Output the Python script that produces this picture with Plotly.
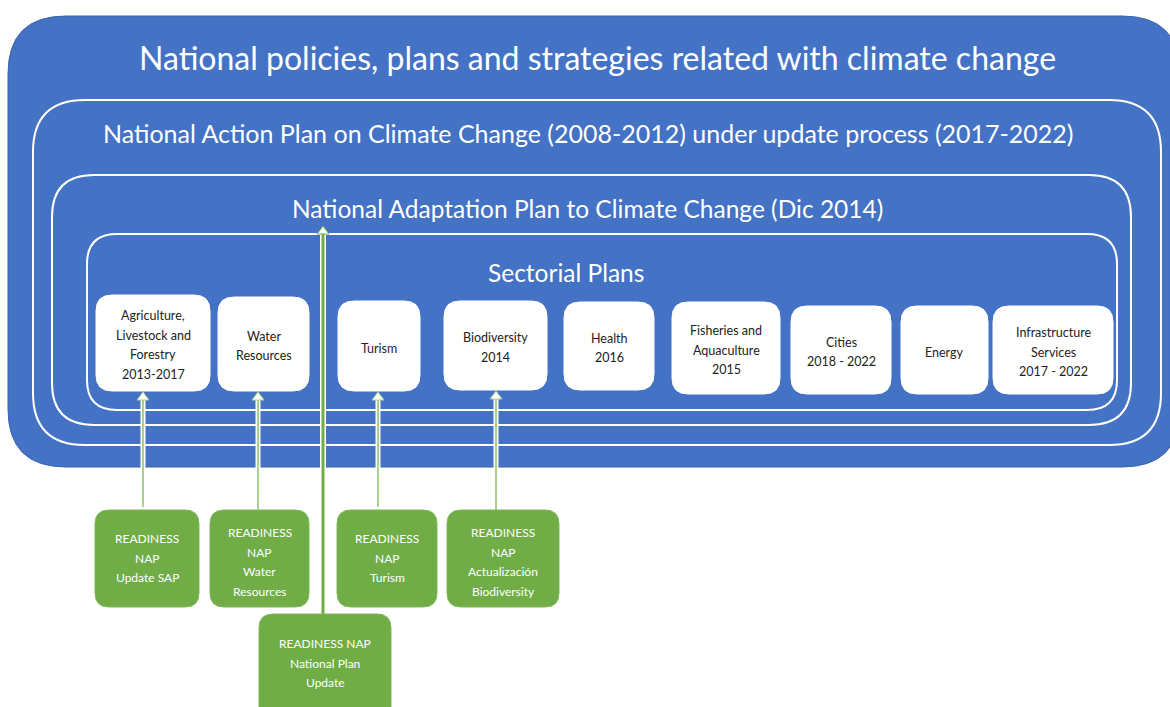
import plotly.graph_objects as go

# ---- content ----
title_outer = "National policies, plans and strategies related with climate change"
title_action = "National Action Plan on Climate Change (2008-2012) under update process (2017-2022)"
title_adapt = "National Adaptation Plan to Climate Change (Dic 2014)"
title_sector = "Sectorial Plans"

sector_labels = [
    ["Agriculture,", "Livestock and", "Forestry", "2013-2017"],
    ["Water", "Resources"],
    ["Turism"],
    ["Biodiversity", "2014"],
    ["Health", "2016"],
    ["Fisheries and", "Aquaculture", "2015"],
    ["Cities", "2018 - 2022"],
    ["Energy"],
    ["Infrastructure", "Services", "2017 - 2022"],
]
readiness_labels = [
    ["READINESS", "NAP", "Update SAP"],
    ["READINESS", "NAP", "Water", "Resources"],
    ["READINESS", "NAP", "Turism"],
    ["READINESS", "NAP", "Actualización", "Biodiversity"],
    ["READINESS NAP", "National Plan", "Update"],
]

# ---- layout geometry (pixels) ----
sector_boxes = [(96, 295, 210, 391), (218, 297, 309, 391), (338, 301, 420, 391),
                (444, 301, 547, 390), (564, 302, 654, 390), (672, 302, 780, 394),
                (791, 306, 891, 394), (901, 306, 988, 394), (993, 306, 1113, 394)]
green_boxes = [(95, 510, 199, 607), (210, 510, 309, 607), (337, 510, 437, 607),
               (447, 510, 559, 607), (259, 614, 391, 730)]
green_text_centers = [558, 562, 558, 562, 663]
small_arrows = [(143, 507, 392), (258, 509, 392), (378, 507, 392), (496, 510, 391)]
long_arrow = (323, 614, 226)

BLUE = "#4472C4"
GREEN = "#70AD47"
FONT = "Lato"
LINE_H = 19.5


def rrect(x0, y0, x1, y1, r):
    return (f"M {x0+r},{y0} L {x1-r},{y0} Q {x1},{y0} {x1},{y0+r} "
            f"L {x1},{y1-r} Q {x1},{y1} {x1-r},{y1} L {x0+r},{y1} "
            f"Q {x0},{y1} {x0},{y1-r} L {x0},{y0+r} Q {x0},{y0} {x0+r},{y0} Z")


shapes = []
ann = []


def text_block(cx, cy, lines, size, color):
    n = len(lines)
    for k, t in enumerate(lines):
        ann.append(dict(x=cx, y=cy + (k - (n - 1) / 2) * LINE_H, text=t,
                        font=dict(size=size, color=color, family=FONT)))


# outer container
shapes.append(dict(type="path", path=rrect(8, 16, 1180, 467, 58), fillcolor=BLUE,
                   line=dict(color="#3A63AD", width=1), layer="below"))
shapes.append(dict(type="path", path=rrect(33, 100, 1161, 445, 52), fillcolor="rgba(0,0,0,0)",
                   line=dict(color="white", width=2)))
shapes.append(dict(type="path", path=rrect(52, 175, 1131, 425, 42), fillcolor="rgba(0,0,0,0)",
                   line=dict(color="white", width=2)))
shapes.append(dict(type="path", path=rrect(87, 234, 1117, 410, 30), fillcolor="rgba(0,0,0,0)",
                   line=dict(color="white", width=2)))

ann.append(dict(x=597, y=57, text=title_outer, font=dict(size=32, color="white", family=FONT)))
ann.append(dict(x=588, y=133, text=title_action, font=dict(size=25, color="white", family=FONT)))
ann.append(dict(x=587, y=208, text=title_adapt, font=dict(size=24.5, color="white", family=FONT)))
ann.append(dict(x=566, y=272, text=title_sector, font=dict(size=24.5, color="white", family=FONT)))

for (x0, y0, x1, y1), lab in zip(sector_boxes, sector_labels):
    shapes.append(dict(type="path", path=rrect(x0, y0, x1, y1, 16), fillcolor="white",
                       line=dict(color="white", width=1)))
    text_block((x0 + x1) / 2, (y0 + y1) / 2 + 2, lab, 12.5, "#222222")

# small arrows
for x, yb, yt in small_arrows:
    shapes.append(dict(type="line", x0=x, x1=x, y0=yb, y1=yt + 6, line=dict(color="white", width=5)))
    shapes.append(dict(type="line", x0=x, x1=x, y0=yb, y1=yt + 6, line=dict(color="#A9D18E", width=2)))
    shapes.append(dict(type="path", path=f"M {x-6},{yt+8} L {x},{yt} L {x+6},{yt+8} Z",
                       fillcolor="white", line=dict(color="#A9D18E", width=1)))

# long arrow
x, yb, yt = long_arrow
shapes.append(dict(type="line", x0=x, x1=x, y0=yb, y1=yt + 6, line=dict(color="white", width=6)))
shapes.append(dict(type="line", x0=x, x1=x, y0=yb, y1=yt + 6, line=dict(color=GREEN, width=3)))
shapes.append(dict(type="path", path=f"M {x-6},{yt+8} L {x},{yt} L {x+6},{yt+8} Z",
                   fillcolor="white", line=dict(color=GREEN, width=1)))

for (x0, y0, x1, y1), lab, cy in zip(green_boxes, readiness_labels, green_text_centers):
    shapes.append(dict(type="path", path=rrect(x0, y0, x1, y1, 14), fillcolor=GREEN,
                       line=dict(color="#7DB957", width=1)))
    text_block((x0 + x1) / 2, cy, lab, 12, "white")

for a in ann:
    a.update(xref="x", yref="y", showarrow=False, xanchor="center", yanchor="middle")

fig = go.Figure()
fig.update_layout(
    width=1170, height=707,
    margin=dict(l=0, r=0, t=0, b=0),
    paper_bgcolor="white", plot_bgcolor="white",
    xaxis=dict(range=[0, 1170], visible=False, fixedrange=True),
    yaxis=dict(range=[707, 0], visible=False, fixedrange=True),
    shapes=shapes, annotations=ann, showlegend=False,
)
fig.write_html("out.html", config={"displayModeBar": False},
               post_script="document.body.style.margin='0';document.body.style.overflow='hidden';")
